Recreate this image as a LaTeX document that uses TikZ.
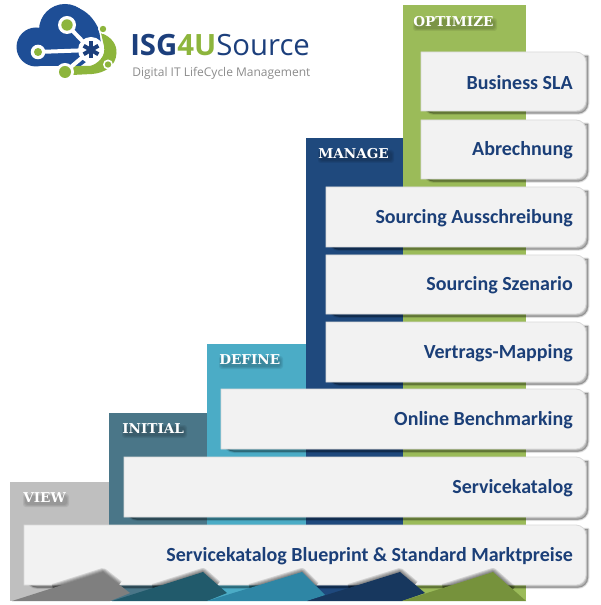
\documentclass[tikz,border=0pt]{standalone}
\usepackage{fontspec}
\newfontfamily\cardfont{Carlito}
\newfontfamily\logofont{Open Sans}
\newfontfamily\stepfont{DejaVu Serif}
\definecolor{cview}{HTML}{BFBFBF}
\definecolor{cinit}{HTML}{4A7688}
\definecolor{cdef}{HTML}{4BACC6}
\definecolor{cman}{HTML}{1F497D}
\definecolor{copt}{HTML}{9BBB59}
\definecolor{fview}{HTML}{7F7F7F}
\definecolor{finit}{HTML}{215A6B}
\definecolor{fdef}{HTML}{2E86A5}
\definecolor{fman}{HTML}{17375E}
\definecolor{fopt}{HTML}{76923C}
\definecolor{cardfill}{HTML}{F2F2F2}
\definecolor{cardedge}{HTML}{DADADA}
\definecolor{cardtext}{HTML}{1B3F78}
\definecolor{logoblue}{HTML}{1E4E96}
\definecolor{logonavy}{HTML}{1C3F7C}
\definecolor{logogreen}{HTML}{8DB53C}
\definecolor{logogrey}{HTML}{8C8C8C}
\tikzset{
  cardtitle/.style={anchor=east,inner sep=0pt,text=cardtext,font=\cardfont\fontsize{15pt}{17pt}\selectfont\bfseries},
  steptitle/.style={anchor=west,inner sep=0pt,text=white,font=\stepfont\bfseries\fontsize{10.2pt}{12pt}\selectfont},
  softshadow/.style={fill=black,draw=black,opacity=0.075,line join=round},
}
% column: left, top, right, colour
\newcommand{\stepcol}[4]{\fill[#4] (#1,#2) rectangle (#3,601);}
% card: name, left, top, bottom, text
\newcommand{\stepcard}[5]{%
  \foreach \w in {3,2,1,0.3}{
    \path[softshadow,line width=\w*0.75pt] (#2+3,#3+4) -- (586+2,#3+4) [rounded corners=7.5pt] -- (586+2,#4+2.5) -- (#2+3,#4+2.5) [sharp corners] -- cycle;
  }
  \path[fill=cardfill,draw=cardedge,line width=0.6pt] (#2,#3) [rounded corners=7.5pt] -- (586,#3) -- (586,#4) [sharp corners] -- (#2,#4) -- cycle;
  \node[cardtitle] (#1) at (573,{(#3+#4)/2+1}) {#5};
}
% label shadow: soft blob behind step title
\newcommand{\labelshadow}[4]{%
  \foreach \w in {2,1,0}{
    \fill[black,opacity=0.07,rounded corners=2pt] (#1+2-\w,#2+2-\w) rectangle (#3+2+\w,#4+2+\w);
  }
}
% fold: left foot, tip, right end, foot; colour
\newcommand{\foldshape}[9]{%
  \begin{scope}
  \clip (#1,601) rectangle (#4+3,560);
  \foreach \w in {8,6,4,2}{
    \draw[black,opacity=0.13,line width=\w*0.75pt,line join=round] ({#1+0.45*(#2-#1)},{601+0.45*(#3-601)}) -- (#2,#3) -- ({#2+0.6*(#4-#2)},{#3+0.6*(#5-#3)});
  }
  \end{scope}
  \fill[#9] (#1,601) -- (#2,#3) -- (#4,#5) -- (#6,#7) -- (#8,601) -- cycle;
}
\begin{document}
\begin{tikzpicture}[x=0.75pt,y=-0.75pt]
\useasboundingbox (0,0) rectangle (600,605);
\fill[white] (0,0) rectangle (600,605);
% logo cloud
\fill[logoblue] (36,47) circle (19.5);
\fill[logoblue] (65,30) circle (26);
\fill[logoblue] (34,47) rectangle (80,66.5);
\fill[logoblue] (62,5) .. controls (85,5) and (95,20) .. (99,30) -- (102,50) -- (80,66.5) -- (60,50) -- cycle;
\fill[logogreen] (101,33) .. controls (112,37) and (117,45) .. (116.5,53) .. controls (116,66) and (105,73) .. (92,74) -- (72,75) -- (73,66) -- (90,66) .. controls (98,64) and (106,56) .. (104,46) -- cycle;
\fill[white] (91,50) circle (13);
\draw[white,line width=3pt] (38,52) -- (91,50);
\draw[white,line width=3pt] (67,25) -- (91,50);
\draw[white,line width=3pt] (65,72) -- (91,50);
\fill[white] (67,25) circle (9);
\fill[logogreen] (67,25) circle (5.7);
\fill[white] (38,52) circle (7.3);
\fill[logogreen] (38,52) circle (4);
\fill[white] (65,72) circle (9);
\fill[logogreen] (65,72) circle (6);
\fill[white] (103,29) circle (5);
\fill[logogreen] (103,29) circle (3.2);
\fill[white] (108,64.5) circle (5);
\fill[logogreen] (108,64.5) circle (3.2);
\foreach \a in {90,150,210,270,330,30}{
  \draw[logonavy,line width=3pt] (91,50) -- ++(\a:8.5);
}
\node[anchor=west,inner sep=0pt,text=logonavy,font=\logofont\fontsize{22pt}{25pt}\selectfont] (logoname) at (130,45)
  {\textbf{ISG}\textcolor{logogreen}{\textbf{4U}}Source};
\node[anchor=west,inner sep=0pt,text=logogrey,font=\logofont\fontsize{9pt}{11pt}\selectfont] (logotag) at (132,73) {Digital IT LifeCycle Management};
% step columns
\stepcol{10}{482}{109}{cview}
\stepcol{109}{413}{207}{cinit}
\stepcol{207}{344}{306}{cdef}
\stepcol{306}{138}{403}{cman}
\stepcol{403}{5}{526}{copt}
% step titles
\labelshadow{23}{494}{65}{503}
\labelshadow{122}{425}{183}{434}
\labelshadow{219}{356}{279}{365}
\labelshadow{318}{150}{390}{159}
\labelshadow{413}{18}{493}{27}
\node[steptitle] (view) at (23,498) {VIEW};
\node[steptitle] (initial) at (122,429) {INITIAL};
\node[steptitle] (define) at (219,360) {DEFINE};
\node[steptitle] (manage) at (318,154) {MANAGE};
\node[steptitle] (optimize) at (413,22) {OPTIMIZE};
% cards
\stepcard{sla}{421}{52}{111}{Business SLA}
\stepcard{abr}{421}{120}{179}{Abrechnung}
\stepcard{aus}{326}{187}{247}{Sourcing Ausschreibung}
\stepcard{sze}{326}{255}{314}{Sourcing Szenario}
\stepcard{ver}{326}{322}{382}{Vertrags-Mapping}
\stepcard{onl}{221}{389}{449}{Online Benchmarking}
\stepcard{svc}{124}{457}{517}{Servicekatalog}
\stepcard{blu}{24}{525}{585}{Servicekatalog Blueprint \& Standard Marktpreise}
% folds
\foldshape{12}{103}{572}{130}{593}{110}{601}{110}{fview}
\foldshape{112}{203}{572}{227}{593}{207}{601}{207}{finit}
\foldshape{207}{302}{572}{325}{595}{307}{601}{307}{fdef}
\foldshape{307}{400}{572}{425}{593}{402}{601}{402}{fman}
\foldshape{402}{493}{572}{526}{601}{526}{601}{526}{fopt}
\end{tikzpicture}
\end{document}
